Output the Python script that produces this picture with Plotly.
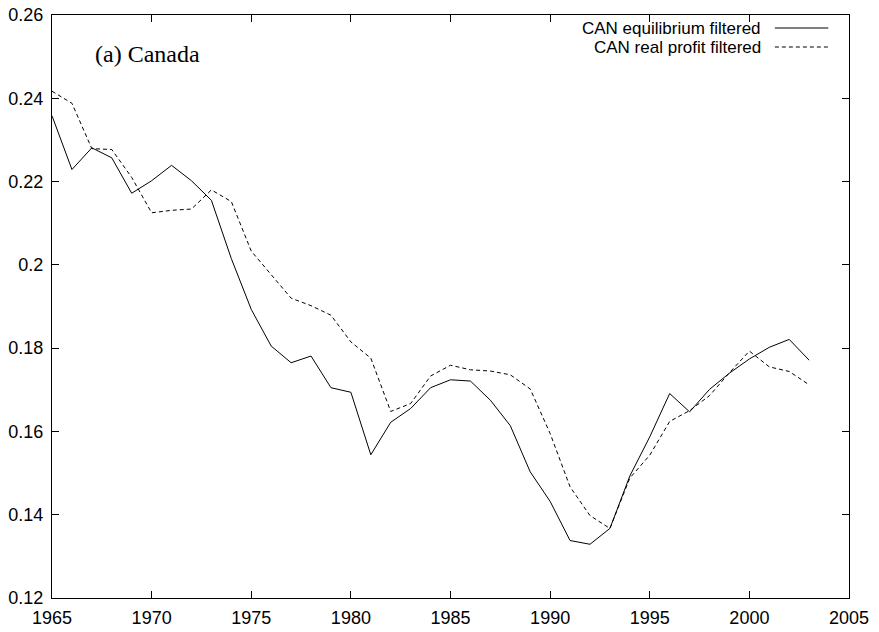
import plotly.graph_objects as go

years = list(range(1965, 2004))

# CAN equilibrium filtered (solid)
equilibrium = [
    0.2358, 0.2229, 0.2281, 0.2257, 0.2172, 0.2202, 0.2239, 0.2202, 0.2155, 0.2015,
    0.1893, 0.1805, 0.1765, 0.1781, 0.1705, 0.1694, 0.1544, 0.1622, 0.1655, 0.1705,
    0.1724, 0.1721, 0.1675, 0.1614, 0.1503, 0.1432, 0.1338, 0.1329, 0.1367, 0.1493,
    0.1587, 0.1691, 0.1647, 0.1701, 0.1740, 0.1774, 0.1802, 0.1821, 0.1771,
]

# CAN real profit filtered (dashed)
real_profit = [
    0.2417, 0.2388, 0.2279, 0.2277, 0.2210, 0.2125, 0.2131, 0.2134, 0.2180, 0.2152,
    0.2033, 0.1977, 0.1920, 0.1902, 0.1879, 0.1815, 0.1776, 0.1648, 0.1667, 0.1733,
    0.1759, 0.1748, 0.1745, 0.1736, 0.1702, 0.1595, 0.1467, 0.1398, 0.1367, 0.1488,
    0.1543, 0.1624, 0.1650, 0.1686, 0.1741, 0.1793, 0.1755, 0.1744, 0.1712,
]

series_names = ['CAN equilibrium filtered', 'CAN real profit filtered']
series_dash = ['solid', '4px,3px']
panel_title = '(a) Canada'

sans = 'Liberation Sans, Arial, sans-serif'
serif = 'Liberation Serif, Times New Roman, serif'

fig = go.Figure()
for name, ys, dash in zip(series_names, [equilibrium, real_profit], series_dash):
    fig.add_trace(go.Scatter(
        x=years, y=ys, name=name, mode='lines',
        line=dict(color='black', width=1, dash=dash),
        showlegend=False,
    ))

# gnuplot-style key: text right-aligned, line sample to its right
for i, (name, dash) in enumerate(zip(series_names, series_dash)):
    yk = 0.9777 - i * 0.0326
    fig.add_annotation(
        x=0.892, y=yk, xref='paper', yref='paper', text=name,
        showarrow=False, xanchor='right', yanchor='middle',
        font=dict(family=sans, size=17, color='black'),
    )
    fig.add_shape(
        type='line', xref='paper', yref='paper',
        x0=0.907, x1=0.974, y0=yk, y1=yk,
        line=dict(color='black', width=1, dash=dash),
    )

fig.add_annotation(
    x=0.051, y=0.9331, xref='paper', yref='paper', text=panel_title,
    showarrow=False, xanchor='left', yanchor='middle',
    font=dict(family=serif, size=24, color='black'),
)

axis_common = dict(
    showline=True, linecolor='black', linewidth=1, mirror='ticks',
    ticks='inside', ticklen=7, tickcolor='black', tickwidth=1,
    showgrid=False, zeroline=False, automargin=False,
    ticklabeloverflow='allow',
    tickfont=dict(family=sans, size=18, color='black'),
)

fig.update_xaxes(range=[1965, 2005], dtick=5, tick0=1965, ticklabelstandoff=3, **axis_common)
fig.update_yaxes(range=[0.12, 0.26], dtick=0.02, tick0=0.12, ticklabelstandoff=4, **axis_common)

# page body adds an 8px margin, so the figure is sized to fit inside the window
fig.update_layout(
    width=871, height=624,
    margin=dict(l=44, r=30, t=7, b=34),
    plot_bgcolor='white', paper_bgcolor='white',
)

fig.write_html("out.html")
